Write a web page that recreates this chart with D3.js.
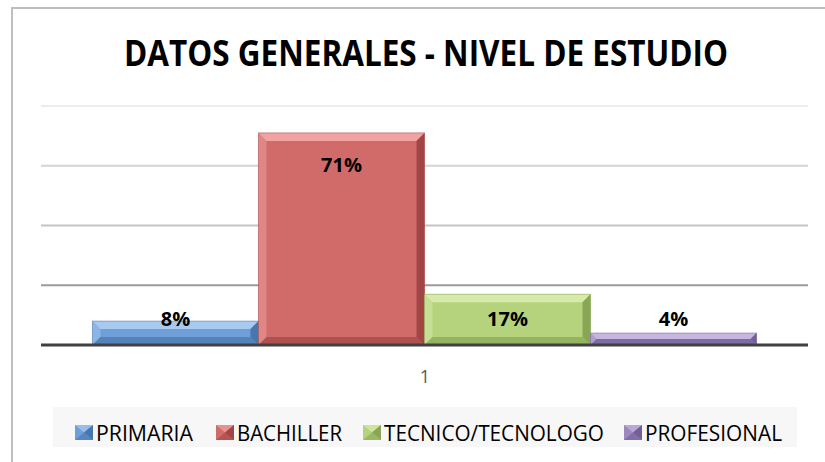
<!DOCTYPE html>
<html>
<head>
<meta charset="utf-8">
<script src="https://cdn.jsdelivr.net/npm/d3@7"></script>
<style>
  html, body { margin: 0; padding: 0; background: #fff; }
  svg { display: block; font-family: "Open Sans", "Liberation Sans", sans-serif; }
</style>
</head>
<body>
<div class="chart"></div>
<script>
// chart data
var categories = ["PRIMARIA", "BACHILLER", "TECNICO/TECNOLOGO", "PROFESIONAL"];
var values = [8, 71, 17, 4];
var labels = ["8%", "71%", "17%", "4%"];
var yTicks = [0, 20, 40, 60, 80];
var xLabel = "1";

var colors = [
  { base: "#6f9fd8", light: "#a9caf0", dark: "#4876ae" },
  { base: "#d16b6a", light: "#f0a3a2", dark: "#a14645" },
  { base: "#b5d27d", light: "#d8eaaa", dark: "#88a656" },
  { base: "#9c87bf", light: "#c6b6df", dark: "#735f98" }
];
var gridColors = ["#404040", "#9a9a9a", "#c4c4c4", "#d4d4d4", "#ececec"];

var svgWidth = 825, svgHeight = 462;

var svg = d3.select(".chart").append("svg")
  .attr("width", svgWidth)
  .attr("height", svgHeight);

// chart frame
svg.append("rect")
  .attr("x", 12).attr("y", 8)
  .attr("width", 840).attr("height", 480)
  .attr("fill", "#fff")
  .attr("stroke", "#bfbfbf")
  .attr("stroke-width", 2);

// title
svg.append("text")
  .attr("x", 426).attr("y", 66)
  .attr("text-anchor", "middle")
  .attr("font-size", 36)
  .attr("font-weight", "bold")
  .attr("textLength", 604)
  .attr("lengthAdjust", "spacingAndGlyphs")
  .attr("fill", "#000")
  .text("DATOS GENERALES - NIVEL DE ESTUDIO");

// scales
var xScale = d3.scaleBand()
  .domain(categories)
  .range([41, 808])
  .paddingInner(0)
  .paddingOuter(0.31);

var yScale = d3.scaleLinear()
  .domain([0, 80])
  .range([345, 106]);

// gridlines
svg.append("g").selectAll("line")
  .data(yTicks.slice(1))
  .enter()
  .append("line")
  .attr("x1", 41).attr("x2", 808)
  .attr("y1", d => yScale(d)).attr("y2", d => yScale(d))
  .attr("stroke", (d, i) => gridColors[i + 1])
  .attr("stroke-width", 2);

// bars with bevel
var bw = xScale.bandwidth();
var bevel = 8;
var bars = svg.append("g").selectAll("g")
  .data(values)
  .enter()
  .append("g");

bars.each(function(v, i) {
  var g = d3.select(this);
  var x0 = xScale(categories[i]), x1 = x0 + bw;
  var y0 = yScale(v), y1 = yScale(0);
  var b = Math.min(bevel, (y1 - y0) / 2);
  var c = colors[i];
  g.append("rect")
    .attr("x", x0).attr("y", y0)
    .attr("width", bw).attr("height", y1 - y0)
    .attr("fill", c.base);
  // top bevel
  g.append("polygon")
    .attr("points", [[x0, y0], [x1, y0], [x1 - b, y0 + b], [x0 + b, y0 + b]].join(" "))
    .attr("fill", c.light);
  // left bevel
  g.append("polygon")
    .attr("points", [[x0, y0], [x0 + b, y0 + b], [x0 + b, y1 - b], [x0, y1]].join(" "))
    .attr("fill", c.light).attr("opacity", 0.5);
  // right bevel
  g.append("polygon")
    .attr("points", [[x1, y0], [x1, y1], [x1 - b, y1 - b], [x1 - b, y0 + b]].join(" "))
    .attr("fill", c.dark);
  // bottom bevel
  g.append("polygon")
    .attr("points", [[x0, y1], [x1, y1], [x1 - b, y1 - b], [x0 + b, y1 - b]].join(" "))
    .attr("fill", c.dark).attr("opacity", 0.7);
  g.append("rect")
    .attr("x", x0).attr("y", y0)
    .attr("width", bw).attr("height", y1 - y0)
    .attr("fill", "none")
    .attr("stroke", c.dark)
    .attr("stroke-opacity", 0.5)
    .attr("stroke-width", 1);
});

// baseline
svg.append("line")
  .attr("x1", 41).attr("x2", 808)
  .attr("y1", yScale(0)).attr("y2", yScale(0))
  .attr("stroke", gridColors[0])
  .attr("stroke-width", 3);

// data labels
svg.append("g").selectAll("text")
  .data(values)
  .enter()
  .append("text")
  .attr("x", (d, i) => xScale(categories[i]) + bw / 2)
  .attr("y", d => Math.min(yScale(d) + 32, yScale(0) - 26) + 7)
  .attr("text-anchor", "middle")
  .attr("font-size", 20)
  .attr("font-weight", "bold")
  .attr("fill", "#000")
  .text((d, i) => labels[i]);

// category axis label
svg.append("text")
  .attr("x", 425).attr("y", 383)
  .attr("text-anchor", "middle")
  .attr("font-size", 18)
  .attr("fill", "#595959")
  .text(xLabel);

// legend
svg.append("rect")
  .attr("x", 53).attr("y", 407)
  .attr("width", 744).attr("height", 40)
  .attr("fill", "#f7f7f7");

var legend = svg.append("g");
var textStarts = [96, 237, 384, 645];
var textEnds = [193, 342, 604, 782];
categories.forEach(function(cat, i) {
  var c = colors[i];
  var mx = textStarts[i] - 21;
  var my = 425;
  legend.append("rect")
    .attr("x", mx).attr("y", my).attr("width", 18).attr("height", 15)
    .attr("fill", c.base);
  legend.append("polygon")
    .attr("points", [[mx, my], [mx + 18, my], [mx + 9, my + 7.5]].join(" "))
    .attr("fill", c.light).attr("opacity", 0.7);
  legend.append("polygon")
    .attr("points", [[mx + 18, my], [mx + 18, my + 15], [mx + 9, my + 7.5]].join(" "))
    .attr("fill", c.dark);
  legend.append("polygon")
    .attr("points", [[mx, my + 15], [mx + 18, my + 15], [mx + 9, my + 7.5]].join(" "))
    .attr("fill", c.dark).attr("opacity", 0.6);
  legend.append("text")
    .attr("x", textStarts[i]).attr("y", 441)
    .attr("font-size", 21)
    .attr("fill", "#000")
    .attr("textLength", textEnds[i] - textStarts[i])
    .attr("lengthAdjust", "spacingAndGlyphs")
    .text(cat);
});
</script>
</body>
</html>
